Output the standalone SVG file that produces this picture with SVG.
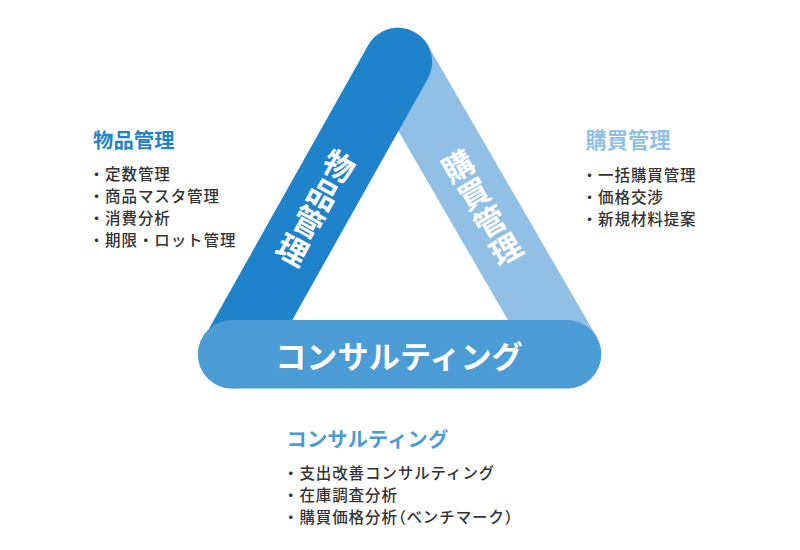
<svg xmlns="http://www.w3.org/2000/svg" width="800" height="550" viewBox="0 0 800 550">
<style>
text{font-family:"Noto Sans CJK JP","Noto Sans",sans-serif}
.t{font-size:20.300px;font-weight:700;letter-spacing:.1px}
.i{font-size:15.500px;font-weight:500;letter-spacing:.9px;fill:#333}
.w{fill:#fff;font-weight:700}
.v{font-size:31px;letter-spacing:1px;writing-mode:vertical-rl;text-anchor:middle}
.p{font-feature-settings:"palt"}
</style>
<rect width="800" height="550" fill="#fff"/>
<g id="connectors" fill="none" stroke-width="68.4" stroke-linecap="round">
<path id="band-purchase" d="M398 62L567 354" stroke="#90c0e5"/>
<path id="band-goods" d="M398 62L234 354" stroke="#1f83cb"/>
<path id="band-consulting" d="M232 354.300H567" stroke="#4b9bd5"/>
</g>
<g id="node-goods">
<text class="w v" transform="translate(315.500 208.500) rotate(29)">物品管理</text>
<text class="t" x="93" y="148" fill="#1f83cb">物品管理</text>
<text class="i" x="88.700" y="179.500">・定数管理</text>
<text class="i" x="88.700" y="201.500">・商品マスタ管理</text>
<text class="i" x="88.700" y="223.500">・消費分析</text>
<text class="i" x="88.700" y="245.500">・期限・ロット管理</text>
</g>
<g id="node-purchase">
<text class="w v" transform="translate(482 208) rotate(-30)">購買管理</text>
<text class="t" x="585.500" y="148" fill="#90c0e5" style="font-size:21.200px">購買管理</text>
<text class="i" x="581.700" y="180.500">・一括購買管理</text>
<text class="i" x="581.700" y="202.500">・価格交渉</text>
<text class="i" x="581.700" y="224.500">・新規材料提案</text>
</g>
<g id="node-consulting">
<text class="w" x="399" y="368" font-size="31.200" text-anchor="middle">コンサルティング</text>
<text class="t" x="286.500" y="447" fill="#4b9bd5">コンサルティング</text>
<text class="i" x="283" y="478.500">・支出改善コンサルティング</text>
<text class="i" x="283" y="500.500">・在庫調査分析</text>
<text class="i" x="283" y="522.500">・購買価格分析<tspan class="p">（</tspan>ベンチマーク）</text>
</g>
</svg>
